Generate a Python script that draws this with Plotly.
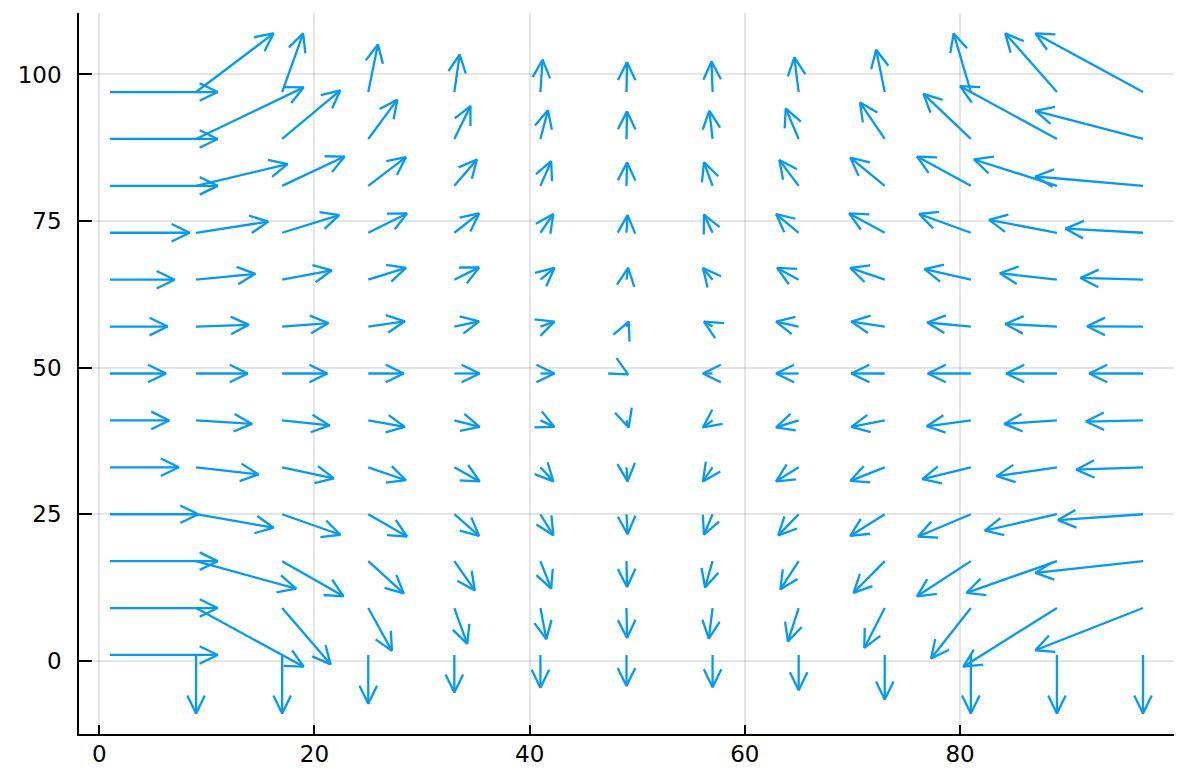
import math
import plotly.graph_objects as go

# grid of arrow origins
xs = [1, 9, 17, 25, 33, 41, 49, 57, 65, 73, 81, 89, 97]
ys = [97, 89, 81, 73, 65, 57, 49, 41, 33, 25, 17, 9, 1]

# horizontal components, one row per y in ys
U = [
    [10, 7.2, 1.95, 0.9, 0.5, 0.2, 0.05, -0.1, -0.4, -0.8, -1.6, -4.8, -10],
    [10, 10, 5.4, 2.7, 1.5, 0.7, 0.05, -0.3, -1.2, -2.3, -4.4, -9.0, -10],
    [10, 8.5, 5.8, 3.5, 2.1, 1.0, 0.05, -0.8, -1.8, -3.2, -5.0, -7.7, -10],
    [7.4, 6.7, 5.3, 3.6, 2.3, 1.2, 0.1, -0.8, -2.1, -3.3, -4.8, -6.3, -7.2],
    [6.0, 5.5, 4.6, 3.5, 2.3, 1.3, 0.15, -0.9, -2.0, -3.2, -4.3, -5.3, -5.8],
    [5.35, 4.9, 4.3, 3.4, 2.3, 1.3, 0.2, -0.8, -2.1, -3.1, -4.05, -4.8, -5.2],
    [5.2, 4.8, 4.2, 3.3, 2.35, 1.3, 0.15, -0.9, -2.1, -3.1, -4.0, -4.7, -5.0],
    [5.5, 5.2, 4.4, 3.4, 2.35, 1.3, 0.2, -0.9, -2.1, -3.1, -4.1, -4.9, -5.3],
    [6.4, 5.8, 4.8, 3.5, 2.35, 1.2, 0.1, -0.9, -2.1, -3.2, -4.5, -5.6, -6.2],
    [8.2, 7.2, 5.4, 3.6, 2.3, 1.2, 0.1, -0.8, -1.9, -3.2, -4.9, -6.7, -7.9],
    [10, 9.3, 5.7, 3.3, 1.9, 1.0, 0.05, -0.7, -1.7, -2.9, -5.0, -8.4, -10],
    [10, 10, 4.5, 2.2, 1.2, 0.55, 0.05, -0.35, -1.0, -1.9, -3.7, -8.7, -10],
    [10, 0, 0, 0, 0, 0, 0, 0, 0, 0, 0, 0, 0],
]

# vertical components, one row per y in ys
V = [
    [0, 10, 10, 8.1, 6.4, 5.5, 5.1, 5.2, 5.9, 7.2, 10, 10, 10],
    [0, 8.8, 8.3, 6.7, 5.6, 4.9, 4.7, 4.8, 5.2, 6.2, 7.7, 9.0, 4.8],
    [0, 3.7, 5.0, 4.9, 4.5, 4.2, 4.0, 4.0, 4.4, 4.8, 5.0, 4.5, 1.6],
    [0, 1.9, 3.0, 3.3, 3.3, 3.2, 3.0, 3.1, 3.2, 3.3, 3.2, 2.2, 0.7],
    [0, 1.0, 1.6, 2.0, 2.1, 2.0, 2.0, 2.0, 2.0, 2.0, 1.8, 1.1, 0.3],
    [0, 0.3, 0.6, 0.9, 0.9, 0.85, 0.85, 0.85, 0.85, 0.85, 0.7, 0.45, 0.05],
    [0, 0, 0, 0, 0, 0, -0.15, 0, 0, 0, 0, 0, 0],
    [0, -0.6, -0.85, -1.1, -1.1, -1.1, -1.2, -1.2, -1.2, -1.1, -1.0, -0.6, -0.2],
    [0, -1.2, -1.9, -2.2, -2.4, -2.4, -2.4, -2.4, -2.4, -2.3, -2.0, -1.5, -0.4],
    [0, -2.3, -3.5, -3.8, -3.7, -3.6, -3.4, -3.5, -3.6, -3.7, -3.8, -2.8, -1.0],
    [0, -4.7, -6.0, -5.5, -5.0, -4.7, -4.4, -4.5, -4.8, -5.4, -6.0, -5.4, -2.0],
    [0, -10, -9.6, -7.3, -6.1, -5.3, -5.1, -5.2, -5.7, -6.8, -8.6, -10, -7.2],
    [0, -10, -10, -8.3, -6.4, -5.6, -5.3, -5.5, -6.0, -7.6, -10, -10, -10],
]

x_ticks = [0, 20, 40, 60, 80]
y_ticks = [0, 25, 50, 75, 100]

# layout geometry (page body has an 8px margin)
W, H = 1172, 758
ML, MR, MT, MB = 71, 6, 5, 32
XR = [-1.88, 99.88]
YR = [-12.48, 110.48]
px_x = (W - ML - MR) / (XR[1] - XR[0])
px_y = (H - MT - MB) / (YR[1] - YR[0])

HEAD_LEN = 20.0   # pixels
HEAD_ANG = math.radians(26)

lx, ly = [], []
for j, y0 in enumerate(ys):
    for i, x0 in enumerate(xs):
        u, v = U[j][i], V[j][i]
        x1, y1 = x0 + u, y0 + v
        # shaft
        lx += [x0, x1, None]
        ly += [y0, y1, None]
        # head computed in screen space
        dxp, dyp = u * px_x, v * px_y
        n = math.hypot(dxp, dyp)
        if n == 0:
            continue
        bx, by = -dxp / n, -dyp / n
        wings = []
        for s in (1, -1):
            c, sn = math.cos(s * HEAD_ANG), math.sin(s * HEAD_ANG)
            wx = bx * c - by * sn
            wy = bx * sn + by * c
            wings.append((x1 + wx * HEAD_LEN / px_x, y1 + wy * HEAD_LEN / px_y))
        lx += [wings[0][0], x1, wings[1][0], None]
        ly += [wings[0][1], y1, wings[1][1], None]

fig = go.Figure()
fig.add_trace(go.Scatter(
    x=lx, y=ly, mode="lines",
    line=dict(color="#009AFA", width=2.3),
    hoverinfo="skip", showlegend=False,
))

axis_common = dict(
    showgrid=True, gridcolor="rgba(0,0,0,0.1)", gridwidth=1.5,
    zeroline=False, showline=True, linecolor="black", linewidth=1.6,
    ticks="inside", tickcolor="black", tickwidth=1.6,
    tickfont=dict(family="DejaVu Sans", size=23, color="black"),
    mirror=False, automargin=False,
)

fig.update_layout(
    width=W, height=H,
    margin=dict(l=ML, r=MR, t=MT, b=MB),
    plot_bgcolor="white", paper_bgcolor="white",
    xaxis=dict(range=XR, tickvals=x_ticks, ticktext=[str(t) for t in x_ticks],
               ticklen=9, ticklabelstandoff=-1, **axis_common),
    yaxis=dict(range=YR, tickvals=y_ticks, ticktext=[str(t) for t in y_ticks],
               ticklen=13, ticklabelstandoff=11, **axis_common),
)

fig.write_html("out.html")
